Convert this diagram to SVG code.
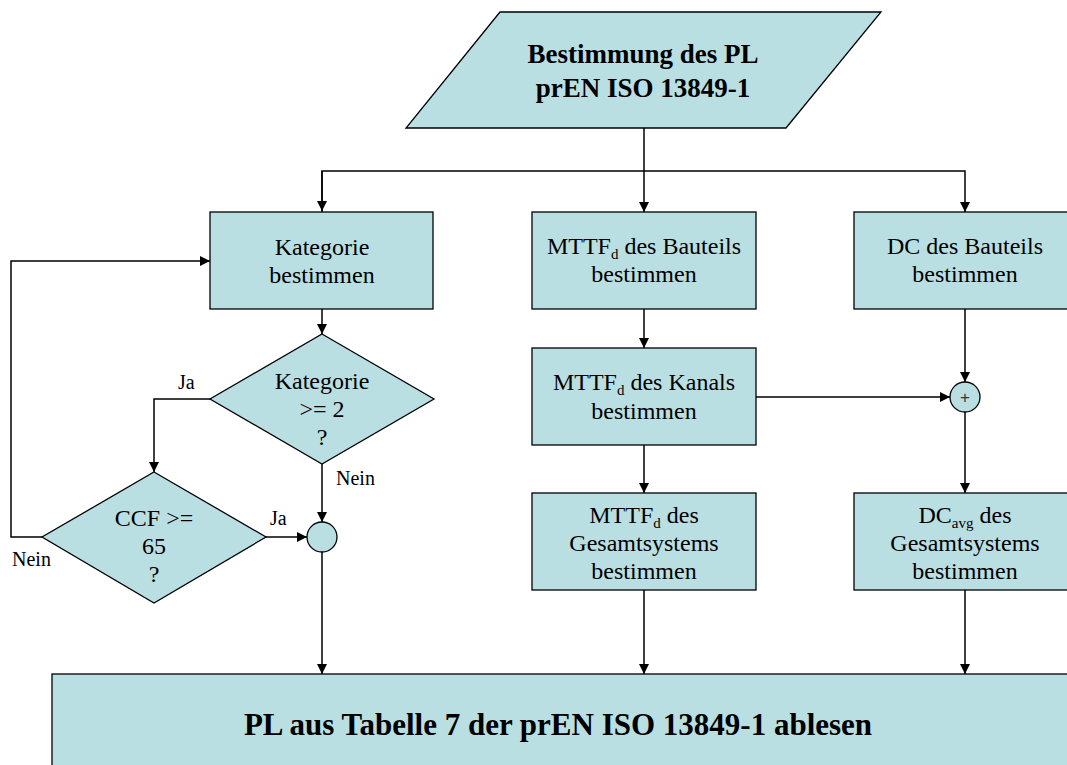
<svg xmlns="http://www.w3.org/2000/svg" width="1067" height="765" viewBox="0 0 1067 765">
  <style>
    .shape { fill: #b9dfe3; stroke: #000; stroke-width: 1.3; }
    .wire { fill: none; stroke: #000; stroke-width: 1.5; }
    .t { font-family: "Liberation Serif", "Times New Roman", serif; font-size: 24px; fill: #000; text-anchor: middle; }
    .b { font-weight: bold; font-size: 27px; }
    .lbl { font-family: "Liberation Serif", "Times New Roman", serif; font-size: 20px; fill: #000; }
    .sub { font-size: 15px; }
  </style>
  <defs>
    <marker id="arrow" viewBox="0 0 10 10" refX="10" refY="5" markerWidth="11" markerHeight="10" markerUnits="userSpaceOnUse" orient="auto">
      <path d="M0,0 L10,5 L0,10 Z" fill="#000"/>
    </marker>
  </defs>

  <!-- connectors -->
  <g id="connectors" class="wire">
    <line x1="644" y1="128" x2="644" y2="212" marker-end="url(#arrow)"/>
    <polyline points="322,212 322,171 965,171 965,212" marker-end="url(#arrow)"/>
    <polyline points="322,171 322,211" marker-end="url(#arrow)"/>
    <line x1="322" y1="309" x2="322" y2="334" marker-end="url(#arrow)"/>
    <polyline points="210,399 154,399 154,472" marker-end="url(#arrow)"/>
    <polyline points="42,537 11,537 11,261 210,261" marker-end="url(#arrow)"/>
    <line x1="266" y1="537" x2="307" y2="537" marker-end="url(#arrow)"/>
    <line x1="322" y1="464" x2="322" y2="522" marker-end="url(#arrow)"/>
    <line x1="322" y1="552" x2="322" y2="674" marker-end="url(#arrow)"/>
    <line x1="644" y1="309" x2="644" y2="348" marker-end="url(#arrow)"/>
    <line x1="644" y1="445" x2="644" y2="493" marker-end="url(#arrow)"/>
    <line x1="644" y1="590" x2="644" y2="674" marker-end="url(#arrow)"/>
    <line x1="756" y1="397" x2="950" y2="397" marker-end="url(#arrow)"/>
    <line x1="965" y1="309" x2="965" y2="382" marker-end="url(#arrow)"/>
    <line x1="965" y1="412" x2="965" y2="493" marker-end="url(#arrow)"/>
    <line x1="965" y1="590" x2="965" y2="674" marker-end="url(#arrow)"/>
  </g>

  <!-- start: parallelogram -->
  <g id="start">
    <polygon class="shape" points="500,12 881,12 786,128 406,128"/>
    <text class="t b" x="643" y="63">Bestimmung des PL</text>
    <text class="t b" x="643" y="97">prEN ISO 13849-1</text>
  </g>

  <g id="kategorie">
    <rect class="shape" x="210" y="212" width="223" height="97"/>
    <text class="t" x="322" y="255">Kategorie</text>
    <text class="t" x="322" y="283">bestimmen</text>
  </g>

  <g id="kategorie-check">
    <polygon class="shape" points="322,334 434,399 322,464 210,399"/>
    <text class="t" x="322" y="389">Kategorie</text>
    <text class="t" x="322" y="417">&gt;= 2</text>
    <text class="t" x="322" y="445">?</text>
  </g>

  <g id="ccf-check">
    <polygon class="shape" points="154,472 266,537 154,603 42,537"/>
    <text class="t" x="154" y="526">CCF &gt;=</text>
    <text class="t" x="154" y="554">65</text>
    <text class="t" x="154" y="582">?</text>
  </g>

  <g id="join">
    <circle class="shape" cx="322" cy="537" r="15"/>
  </g>

  <g id="labels">
    <text class="lbl" x="178" y="389">Ja</text>
    <text class="lbl" x="336" y="485">Nein</text>
    <text class="lbl" x="270" y="525">Ja</text>
    <text class="lbl" x="12" y="566">Nein</text>
  </g>

  <g id="mttf-bauteil">
    <rect class="shape" x="532" y="212" width="224" height="97"/>
    <text class="t" x="644" y="254">MTTF<tspan class="sub" dy="5">d</tspan><tspan dy="-5"> des Bauteils</tspan></text>
    <text class="t" x="644" y="282">bestimmen</text>
  </g>

  <g id="mttf-kanal">
    <rect class="shape" x="532" y="348" width="224" height="97"/>
    <text class="t" x="644" y="390">MTTF<tspan class="sub" dy="5">d</tspan><tspan dy="-5"> des Kanals</tspan></text>
    <text class="t" x="644" y="419">bestimmen</text>
  </g>

  <g id="mttf-gesamt">
    <rect class="shape" x="532" y="493" width="224" height="97"/>
    <text class="t" x="644" y="523">MTTF<tspan class="sub" dy="5">d</tspan><tspan dy="-5"> des</tspan></text>
    <text class="t" x="644" y="551">Gesamtsystems</text>
    <text class="t" x="644" y="579">bestimmen</text>
  </g>

  <g id="dc-bauteil">
    <rect class="shape" x="854" y="212" width="222" height="97"/>
    <text class="t" x="965" y="254">DC des Bauteils</text>
    <text class="t" x="965" y="282">bestimmen</text>
  </g>

  <g id="sum">
    <circle class="shape" cx="965" cy="397" r="15"/>
    <text x="965" y="403" font-family="Liberation Sans, Arial, sans-serif" font-size="17" fill="#333" text-anchor="middle">+</text>
  </g>

  <g id="dc-gesamt">
    <rect class="shape" x="854" y="493" width="222" height="97"/>
    <text class="t" x="965" y="523">DC<tspan class="sub" dy="5">avg</tspan><tspan dy="-5"> des</tspan></text>
    <text class="t" x="965" y="551">Gesamtsystems</text>
    <text class="t" x="965" y="579">bestimmen</text>
  </g>

  <g id="result">
    <rect class="shape" x="52" y="674" width="1030" height="110"/>
    <text class="t b" x="558" y="735" style="font-size:31px">PL aus Tabelle 7 der prEN ISO 13849-1 ablesen</text>
  </g>
</svg>
